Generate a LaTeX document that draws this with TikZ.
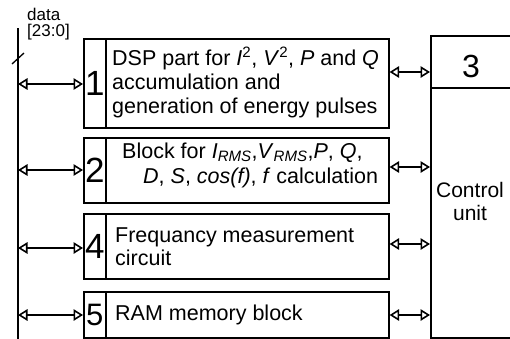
\documentclass[tikz,border=0pt]{standalone}
\usepackage{fontspec}
\setmainfont{Liberation Sans}
\usetikzlibrary{arrows.meta}
\begin{document}
\begin{tikzpicture}[x=1pt,y=-1pt,
  ln/.style={line width=1.6pt},
  cell/.style={draw,line width=1.6pt,rectangle,inner sep=0pt,anchor=north west},
  link/.style={line width=1.6pt,{Triangle[open,length=9.5pt,width=11.5pt]}-{Triangle[open,length=9.5pt,width=11.5pt]}},
  txt/.style={font=\fontsize{21.5}{24}\selectfont,inner sep=0pt,align=left,anchor=base west},
  num/.style={font=\fontsize{35}{35}\selectfont},
  small/.style={font=\fontsize{17}{16}\selectfont,inner sep=0pt,align=left,anchor=base west},
]
\useasboundingbox (0,0) rectangle (510,338);
% bus
\coordinate (bustop) at (18,28);
\coordinate (busbot) at (18,342);
\draw[ln] (bustop) -- (busbot);
\draw[line width=1.3pt] (12,64) -- (24,53);
\node[small] (data) at (27,36) {data\\{[}23:0{]}};
% number cells
\node[cell,num,minimum width=22pt,minimum height=89pt] (n1) at (83,38) {1};
\node[cell,num,minimum width=22pt,minimum height=65pt] (n2) at (83,137) {2};
\node[cell,num,minimum width=22pt,minimum height=65pt] (n4) at (83,213) {4};
\node[cell,num,minimum width=22pt,minimum height=46pt,font=\fontsize{31}{31}\selectfont] (n5) at (83,291) {5};
% text boxes
\node[cell,minimum width=283pt,minimum height=89pt] (b1) at (105,38) {};
\node[cell,minimum width=283pt,minimum height=65pt] (b2) at (105,137) {};
\node[cell,minimum width=283pt,minimum height=65pt] (b4) at (105,213) {};
\node[cell,minimum width=283pt,minimum height=46pt] (b5) at (105,291) {};
\node[txt] (t1) at (112,113) {DSP part for \textit{I}\textsuperscript{2}, \textit{V}\textsuperscript{2}, \textit{P} and \textit{Q}\\accumulation and\\generation of energy pulses};
\node[txt] (t2a) at (122,158) {Block for \textit{I}\textsubscript{\textit{RMS}},\textit{V}\textsubscript{\textit{RMS}},\textit{P}, \textit{Q},};
\node[txt] (t2b) at (143,183) {\textit{D}, \textit{S}, \textit{cos(f)}, \textit{f} calculation};
\node[txt,font=\fontsize{21.5}{23}\selectfont] (t4) at (115,265) {Frequancy measurement\\circuit};
\node[txt] (t5) at (115,320) {RAM memory block};
% control unit
\node[cell,minimum width=90pt,minimum height=302pt] (cu) at (430,35) {};
\coordinate (cudiv) at (430,88);
\draw[ln] (cudiv) -- (cudiv -| cu.east);
\node[font=\fontsize{32}{32}\selectfont] (c3) at (471,66) {3};
\node[font=\fontsize{21}{23}\selectfont,inner sep=0pt,align=center,anchor=base] (ctl) at (470,220) {Control\\unit};
% links to bus
\coordinate (l1) at (18,84);
\coordinate (l2) at (18,170);
\coordinate (l4) at (18,248);
\coordinate (l5) at (18,315);
\draw[link] (l1) -- (l1 -| n1.west);
\draw[link] (l2) -- (l2 -| n2.west);
\draw[link] (l4) -- (l4 -| n4.west);
\draw[link] (l5) -- (l5 -| n5.west);
% links to control unit
\coordinate (r1) at (388,72);
\coordinate (r2) at (388,167);
\coordinate (r4) at (388,244);
\coordinate (r5) at (388,315);
\draw[link] (r1 -| b1.east) -- (r1 -| cu.west);
\draw[link] (r2 -| b2.east) -- (r2 -| cu.west);
\draw[link] (r4 -| b4.east) -- (r4 -| cu.west);
\draw[link] (r5 -| b5.east) -- (r5 -| cu.west);
\end{tikzpicture}
\end{document}
